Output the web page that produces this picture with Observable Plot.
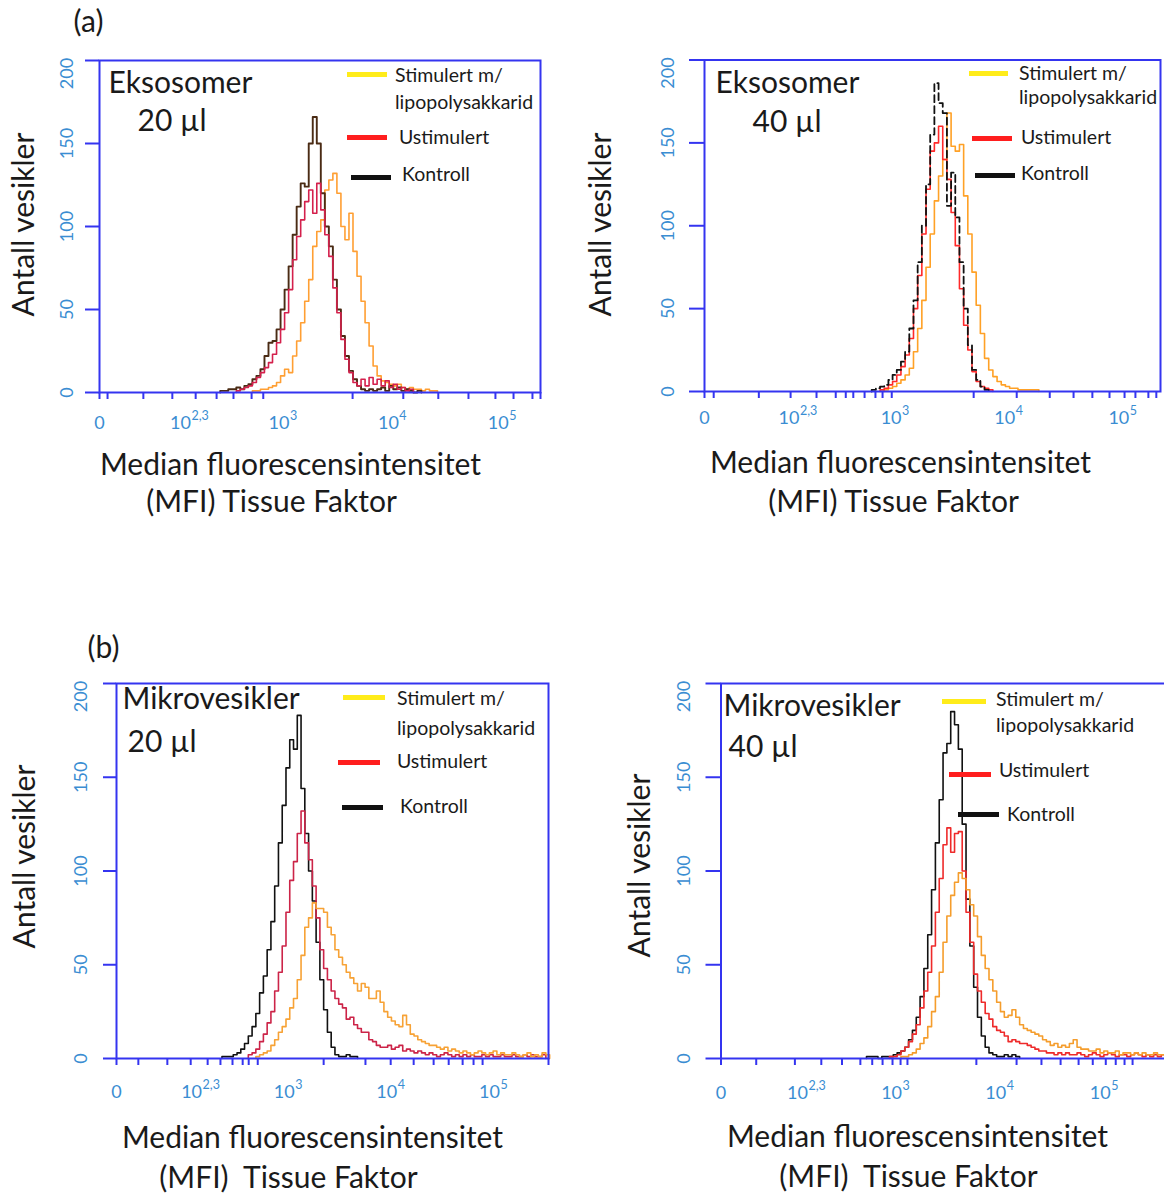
<!DOCTYPE html>
<html><head><meta charset="utf-8">
<script src="https://cdn.jsdelivr.net/npm/d3@7"></script>
<script src="https://cdn.jsdelivr.net/npm/@observablehq/plot@0.6"></script>
<style>
body{margin:0;background:#fff;}
#root{position:relative;width:1164px;height:1193px;overflow:hidden;background:#fff;font-family:Lato,'Open Sans',sans-serif;}
.panel{position:absolute;}
.sw{position:absolute;height:5px;}
.lt{position:absolute;font-size:19.5px;line-height:1;color:#1a1a1a;transform:translateY(-50%);white-space:nowrap;font-family:Lato,sans-serif;}
</style></head><body><div id="root"></div>
<script>
// ---------- shared axis data ----------
const yTicks = [0, 50, 100, 150, 200];
const xLabelPos = [0, 22.7, 45.5, 72.7, 100];
const xLabelBase = ["0", "10", "10", "10", "10"];
const xLabelSup = ["", "2,3", "3", "4", "5"];
const legendNames = ["Stimulert m/", "lipopolysakkarid", "Ustimulert", "Kontroll"];

// minor tick positions (display units) per panel
const minorA = [0, 2.0, 10.9, 18.1, 23.9, 29.1, 33.3, 37.8, 40.7, 62.9, 75.5, 84.2, 91.7, 98.4, 102.9, 107.6, 109.6];
const minorB = [0, 2.2, 13, 20.6, 26.8, 31.4, 33.8, 35.6, 38.3, 40.9, 42.6, 44.8, 64.4, 74.7, 82.6, 88.3, 92.8, 96.9, 100.5, 103.1, 106.2, 108.1];
const minorC = [0, 5.8, 13.5, 19.7, 24.2, 27.6, 30.8, 33.5, 35.1, 37.5, 55, 66.1, 72.8, 78.9, 84.2, 88.2, 91.9, 94.8, 97.2, 114.7];
const minorD = [0, 9.2, 19.3, 26.2, 31.6, 36.4, 39.5, 42.2, 44.8, 46.9, 48.7, 66.7, 77.2, 83.7, 88.7, 93.4, 97.1, 100.5, 103.1, 105.4, 107.5];

// ---------- histogram counts (bins of 1 display unit) ----------
// (a) Eksosomer 20 µl
const exo20StimStart = 38;
const exo20Stim = [1,1,2,2,3,4,6,10,14,12,22,31,42,55,68,88,97,104,122,128,132,120,100,92,108,85,70,55,42,28,16,10,7,6,5,4,5,3,2,3,2,2,1,2,1,1];
const exo20KontrollStart = 30;
const exo20Kontroll = [1,1,2,2,3,2,4,5,8,10,14,22,30,31,38,50,62,76,95,112,126,124,150,166,150,120,100,88,68,50,34,22,13,8,4,2,1,2,1,2,3,1,4,2,3,1,2,1,0,1];
const exo20UstimStart = 34;
const exo20Ustim = [1,2,3,4,6,9,12,15,18,23,30,38,48,62,80,94,104,115,122,108,126,110,95,82,63,48,32,20,12,6,4,8,4,9,5,8,4,7,3,5,2,3,1,2];
// (a) Eksosomer 40 µl
const exo40StimStart = 43;
const exo40Stim = [1,2,3,5,7,10,14,24,38,55,75,95,115,130,140,168,148,145,149,118,95,72,52,35,20,13,9,6,4,3,2,2,1,1,1,1,1];
const exo40UstimStart = 42;
const exo40Ustim = [1,2,4,6,10,15,22,32,50,70,95,122,145,150,160,140,128,108,88,62,40,25,12,6,3,2,1];
const exo40KontrollStart = 40;
const exo40Kontroll = [1,2,3,4,7,10,13,18,24,38,55,78,100,125,155,186,174,168,112,132,105,78,50,28,13,7,3,1];
// (b) Mikrovesikler 20 µl
const mv20StimStart = 37;
const mv20Stim = [1,2,3,4,7,10,14,17,21,27,32,42,55,70,75,83,80,80,78,70,66,58,54,50,46,43,40,36,40,38,32,32,36,30,25,22,20,18,17,23,18,13,12,10,9,8,7,7,6,5,6,4,5,4,3,4,3,2,3,4,3,2,3,4,2,3,2,2,3,2,1,2,3,1,2,1,3,2];
const mv20UstimStart = 35;
const mv20Ustim = [2,3,5,9,13,19,25,36,46,60,78,95,105,120,132,115,106,92,75,58,48,42,36,32,29,27,21,22,18,16,14,14,10,9,7,6,6,7,5,6,7,4,5,4,3,4,3,2,3,2,1,2,3,2,1,2,1,2,1,2,1,1,2,1,2,1,1,2,1,1,2,1,1,2,1,2,1,1,2];
const mv20KontrollStart = 28;
const mv20Kontroll = [1,1,1,2,3,5,8,12,17,24,35,44,58,73,92,115,135,155,170,165,183,144,120,100,84,62,42,26,14,6,2,1,1,2,1,1];
// (b) Mikrovesikler 40 µl
const mv40StimStart = 47;
const mv40Stim = [1,1,2,3,5,8,11,17,25,33,46,62,76,87,94,99,96,90,82,76,65,55,48,42,36,30,25,22,23,26,22,18,16,15,14,13,12,10,9,7,8,6,7,6,8,10,6,5,5,4,4,5,3,4,3,3,4,2,3,3,2,3,2,3,2,2,3,2,2,1,2];
const mv40UstimStart = 44;
const mv40Ustim = [1,1,2,4,6,9,13,18,27,36,46,60,78,96,114,123,110,120,121,100,78,62,45,36,30,24,21,17,15,14,12,9,10,9,8,8,7,6,5,4,4,3,3,2,3,2,3,2,2,3,2,1,2,3,2,1,2,3,2,1,2,2,1,2,3,2,1,2,1,2,1,2,1,1];
const mv40KontrollStart = 38;
const mv40Kontroll = [1,1,1,0,1,1,1,2,3,4,6,10,15,22,33,48,66,90,115,138,163,168,185,178,165,125,85,60,38,22,12,6,3,2,1,1,2,1,2,1];

// ---------- styling / layout ----------
const FONT = "Lato, 'Open Sans', sans-serif";
const FRAME_BLUE = "#3434f0";
const LABEL_BLUE = "#3a8dd2";
const INK = "#1a1a1a";
const SW_YELLOW = "#ffec1a", SW_RED = "#ff1e1e", SW_BLACK = "#111";

const panels = [
  { ox: 0, oy: 0, W: 582, H: 597, f: {l: 99, r: 540, t: 60, b: 392}, xMax: 109.6, minor: minorA,
    curves: [
      {start: exo20StimStart, counts: exo20Stim, color: "#ff9f33"},
      {start: exo20KontrollStart, counts: exo20Kontroll, color: "#4a2b14", width: 1.9},
      {start: exo20UstimStart, counts: exo20Ustim, color: "#d4204c"}],
    titles: [["Eksosomer", 108, 83], ["20 µl", 137, 121]],
    xt: [["Median fluorescensintensitet", 290, 465], ["(MFI) Tissue Faktor", 271, 502]],
    yt: [24, 224], yLabDx: -32, xLabDy: 31, yTick: 14,
    tag: ["(a)", 88, 22],
    sw: [[347, 387, 74], [347, 387, 137], [351, 391, 177]],
    lt: [[395, 75], [395, 102], [399, 137], [402, 174]] },
  { ox: 582, oy: 0, W: 582, H: 597, f: {l: 704, r: 1160, t: 59.5, b: 391}, xMax: 109.1, minor: minorB,
    curves: [
      {start: exo40StimStart, counts: exo40Stim, color: "#ffa126"},
      {start: exo40UstimStart, counts: exo40Ustim, color: "#ff2a2a"},
      {start: exo40KontrollStart, counts: exo40Kontroll, color: "#111", dash: "7,4", width: 1.8}],
    titles: [["Eksosomer", 715, 83], ["40 µl", 752, 122]],
    xt: [["Median fluorescensintensitet", 900, 463], ["(MFI) Tissue Faktor", 893, 502]],
    yt: [601, 224], yLabDx: -36, xLabDy: 27, yTick: 15,
    sw: [[969, 1008, 73], [972, 1012, 138], [975, 1015, 175]],
    lt: [[1019, 73], [1019, 97], [1021, 137], [1021, 173]] },
  { ox: 0, oy: 597, W: 582, H: 596, f: {l: 116, r: 548, t: 683, b: 1058}, xMax: 114.7, minor: minorC,
    curves: [
      {start: mv20KontrollStart, counts: mv20Kontroll, color: "#111"},
      {start: mv20UstimStart, counts: mv20Ustim, color: "#cc2448"},
      {start: mv20StimStart, counts: mv20Stim, color: "#f7a235"}],
    titles: [["Mikrovesikler", 122, 699], ["20 µl", 127, 742]],
    xt: [["Median fluorescensintensitet", 312, 1138], ["(MFI)  Tissue Faktor", 288, 1178]],
    yt: [25, 856], yLabDx: -35, xLabDy: 34, yTick: 13,
    tag: ["(b)", 103, 648],
    sw: [[343, 385, 697], [338, 380, 762], [342, 383, 807]],
    lt: [[397, 698], [397, 728], [397, 761], [400, 806]] },
  { ox: 582, oy: 597, W: 584, H: 596, f: {l: 720.5, r: 1165, t: 683, b: 1058}, xMax: 116.1, minor: minorD,
    curves: [
      {start: mv40KontrollStart, counts: mv40Kontroll, color: "#111"},
      {start: mv40UstimStart, counts: mv40Ustim, color: "#ee2a2a"},
      {start: mv40StimStart, counts: mv40Stim, color: "#f59d2c"}],
    titles: [["Mikrovesikler", 723, 706], ["40 µl", 728, 747]],
    xt: [["Median fluorescensintensitet", 917, 1137], ["(MFI)  Tissue Faktor", 908, 1177]],
    yt: [640, 865], yLabDx: -37, xLabDy: 35, yTick: 15,
    sw: [[942, 986, 701], [949, 991, 774], [958, 999, 814]],
    lt: [[996, 699], [996, 725], [999, 770], [1007, 814]] }
];

function histPoints(start, counts) {
  const pts = [{u: start, n: 0}];
  counts.forEach((n, i) => pts.push({u: start + i, n}));
  pts.push({u: start + counts.length, n: 0});
  return pts;
}

const root = document.getElementById("root");

for (const p of panels) {
  const f = p.f;
  const at = (X, Y) => ({frameAnchor: "top-left", dx: X - f.l, dy: Y - f.t, lineAnchor: "middle"});
  const marks = [];
  for (const c of p.curves) {
    marks.push(Plot.line(histPoints(c.start, c.counts), {
      x: "u", y: "n", curve: "step-after", stroke: c.color, strokeWidth: c.width || 1.6,
      strokeDasharray: c.dash
    }));
  }
  marks.push(Plot.frame({stroke: FRAME_BLUE, strokeWidth: 2}));
  marks.push(Plot.axisY(yTicks, {tickSize: p.yTick, tickFormat: () => "", stroke: FRAME_BLUE, strokeWidth: 2, label: null}));
  marks.push(Plot.axisX(p.minor, {tickSize: 7, tickFormat: () => "", stroke: FRAME_BLUE, strokeWidth: 2, label: null}));
  // y tick labels (rotated)
  const yLab = {text: d => String(d), frameAnchor: "left", textAnchor: "middle", lineAnchor: "middle",
    dx: p.yLabDx, rotate: -90, fill: LABEL_BLUE, fontSize: 18};
  marks.push(Plot.text(yTicks.filter(v => v < 200), {y: d => d, ...yLab}));
  marks.push(Plot.text(yTicks.filter(v => v >= 200), {y: d => d, ...yLab, dy: 13}));
  // x tick labels with superscripts
  xLabelPos.forEach((pos, i) => {
    const sup = xLabelSup[i];
    const baseW = 20.5, supW = sup.length * 6.8;
    marks.push(Plot.text([pos], {x: d => d, text: () => xLabelBase[i], frameAnchor: "bottom", lineAnchor: "middle",
      dy: p.xLabDy, dx: sup ? (baseW - supW) / 2 : 0, textAnchor: sup ? "end" : "middle",
      fill: LABEL_BLUE, fontSize: 18}));
    if (sup) marks.push(Plot.text([pos], {x: d => d, text: () => sup, frameAnchor: "bottom", lineAnchor: "middle",
      dy: p.xLabDy - 8, dx: (baseW - supW) / 2 + 0.5, textAnchor: "start",
      fill: LABEL_BLUE, fontSize: 12.5}));
  });
  // panel titles
  for (const [s, X, Y] of p.titles)
    marks.push(Plot.text([s], {...at(X, Y), text: d => d, textAnchor: "start", fontSize: 30, fill: INK}));
  // axis titles
  for (const [s, X, Y] of p.xt)
    marks.push(Plot.text([s], {...at(X, Y), text: d => d, textAnchor: "middle", fontSize: 30, fill: INK}));
  marks.push(Plot.text(["Antall vesikler"], {...at(p.yt[0], p.yt[1]), text: d => d, rotate: -90,
    textAnchor: "middle", fontSize: 30, fill: INK}));
  if (p.tag)
    marks.push(Plot.text([p.tag[0]], {...at(p.tag[1], p.tag[2]), text: d => d, textAnchor: "middle", fontSize: 30, fill: INK}));

  const svg = Plot.plot({
    width: p.W, height: p.H,
    marginLeft: f.l - p.ox, marginRight: p.ox + p.W - f.r,
    marginTop: f.t - p.oy, marginBottom: p.oy + p.H - f.b,
    x: {domain: [0, p.xMax], axis: null},
    y: {domain: [0, 200], axis: null},
    style: {fontFamily: FONT, background: "transparent", overflow: "visible"},
    marks
  });
  svg.classList.add("panel");
  svg.style.left = p.ox + "px";
  svg.style.top = p.oy + "px";
  root.appendChild(svg);

  // legend (HTML overlay)
  const swColors = [SW_YELLOW, SW_RED, SW_BLACK];
  p.sw.forEach(([x1, x2, y], i) => {
    const d = document.createElement("div");
    d.className = "sw";
    d.style.left = x1 + "px"; d.style.top = (y - 2.5) + "px";
    d.style.width = (x2 - x1) + "px"; d.style.background = swColors[i];
    root.appendChild(d);
  });
  p.lt.forEach(([x, y], i) => {
    const d = document.createElement("div");
    d.className = "lt";
    d.style.left = x + "px"; d.style.top = y + "px";
    d.textContent = legendNames[i];
    root.appendChild(d);
  });
}
</script></body></html>
